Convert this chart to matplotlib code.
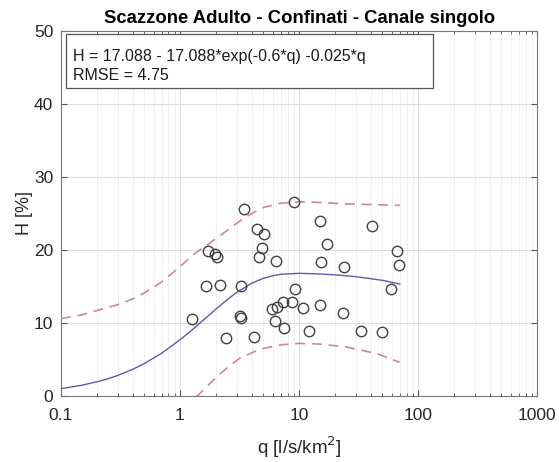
import matplotlib
matplotlib.use("Agg")
import matplotlib.pyplot as plt
from matplotlib.patches import Rectangle
from matplotlib.ticker import LogLocator, NullFormatter, FixedLocator, FixedFormatter

plt.rcParams['font.family'] = ['Liberation Sans', 'DejaVu Sans']

# observed points
q_obs = [3.47, 4.47, 5.09, 4.86, 4.64, 6.37, 1.73, 1.97, 2.06, 1.64, 2.17, 3.26,
         1.25, 3.19, 3.24, 2.44, 4.19, 5.9, 6.58, 7.3, 6.28, 7.48,
         9.14, 15.0, 41.0, 17.1, 67.0, 69.2, 15.2, 23.9, 9.25, 58.9, 8.7, 10.7,
         15.0, 23.3, 12.2, 33.0, 49.8]
H_obs = [25.6, 22.9, 22.2, 20.3, 19.0, 18.5, 19.9, 19.5, 19.1, 15.1, 15.2, 15.0,
         10.5, 11.0, 10.7, 7.9, 8.1, 11.9, 12.2, 12.8, 10.3, 9.3,
         26.5, 24.0, 23.3, 20.8, 19.9, 18.0, 18.3, 17.6, 14.7, 14.7, 12.8, 12.0,
         12.5, 11.4, 8.9, 8.9, 8.8]

# fitted curve H = 17.088 - 17.088*exp(-0.6*q) - 0.025*q
q_fit = [0.1, 0.15, 0.2, 0.25, 0.3, 0.4, 0.5, 0.7, 1.0, 1.2, 1.5, 2.0, 2.5, 3.0,
         4.0, 5.0, 6.0, 7.0, 10, 15, 20, 30, 50, 70]
H_fit = [0.99, 1.47, 1.93, 2.37, 2.81, 3.64, 4.42, 5.84, 7.69, 8.74, 10.10, 11.89,
         13.21, 14.19, 15.44, 16.11, 16.47, 16.66, 16.80, 16.71, 16.59, 16.34,
         15.84, 15.34]

# prediction bounds
q_up = [0.1, 0.15, 0.2, 0.3, 0.4, 0.5, 0.7, 1.0, 1.3, 1.8, 2.5, 3.2, 4.0, 5.0,
        7.0, 10, 15, 25, 45, 70]
H_up = [10.6, 11.1, 11.7, 12.5, 13.3, 14.1, 15.6, 17.7, 19.4, 21.0, 22.7, 24.0,
        25.0, 25.8, 26.4, 26.6, 26.5, 26.3, 26.2, 26.1]
q_lo = [0.1, 0.5, 1.0, 1.4, 2.0, 2.5, 3.2, 4.7, 7.0, 10, 15, 25, 45, 70]
H_lo = [-8.5, -5.0, -2.2, 0.0, 2.5, 3.9, 5.2, 6.4, 7.0, 7.2, 7.1, 6.7, 5.8, 4.6]

x_ticks = [0.1, 1, 10, 100, 1000]
x_labels = ['0.1', '1', '10', '100', '1000']
y_ticks = [0, 10, 20, 30, 40, 50]

fig = plt.figure(figsize=(5.59, 4.62), dpi=100)
ax = fig.add_axes([0.109, 0.143, 0.852, 0.790])

ax.plot(q_fit, H_fit, color='#5b5ba8', lw=1.0, zorder=3)
ax.plot(q_up, H_up, color='#c98c8c', lw=1.2, ls=(0, (6, 4)), zorder=3)
ax.plot(q_lo, H_lo, color='#c98c8c', lw=1.2, ls=(0, (6, 4)), zorder=3)
ax.plot(q_obs, H_obs, 'o', ms=7.5, mfc='none', mec='#404040', mew=1.0, zorder=4)

ax.set_xscale('log')
ax.set_xlim(0.1, 1000)
ax.set_ylim(0, 50)
ax.xaxis.set_major_locator(FixedLocator(x_ticks))
ax.xaxis.set_major_formatter(FixedFormatter(x_labels))
ax.xaxis.set_minor_locator(LogLocator(base=10, subs=range(2, 10)))
ax.xaxis.set_minor_formatter(NullFormatter())
ax.set_yticks(y_ticks)

ax.grid(True, which='major', color='#dcdcdc', lw=0.7)
ax.grid(True, which='minor', axis='x', color='#ececec', lw=0.6)
ax.set_axisbelow(True)

ax.tick_params(which='both', direction='in', top=True, right=True,
               colors='#555555', labelcolor='#262626', labelsize=12.5)
ax.tick_params(which='major', length=4)
ax.tick_params(which='minor', length=2)
ax.tick_params(axis='x', which='major', pad=9)
ax.tick_params(axis='y', which='major', pad=5.5)
for s in ax.spines.values():
    s.set_color('#777777')
    s.set_linewidth(0.8)

ax.set_title('Scazzone Adulto - Confinati - Canale singolo', fontsize=13.3,
             fontweight='bold', pad=6)
ax.set_xlabel('q [l/s/km$^2$]', fontsize=13.5, color='#262626', labelpad=8)
ax.set_ylabel('H [%]', fontsize=13, color='#262626', labelpad=1)

# annotation box (fixed size like the original)
ax.add_patch(Rectangle((0.011, 0.844), 0.770, 0.147, transform=ax.transAxes,
                       fc='white', ec='#555555', lw=0.9, zorder=5))
ax.text(0.0246, 0.930, 'H = 17.088 - 17.088*exp(-0.6*q) -0.025*q',
        transform=ax.transAxes, fontsize=11.5, va='center', ha='left',
        color='#1a1a1a', zorder=6)
ax.text(0.0246, 0.878, 'RMSE = 4.75',
        transform=ax.transAxes, fontsize=11.5, va='center', ha='left',
        color='#1a1a1a', zorder=6)

fig.savefig('out.png', dpi=100)
